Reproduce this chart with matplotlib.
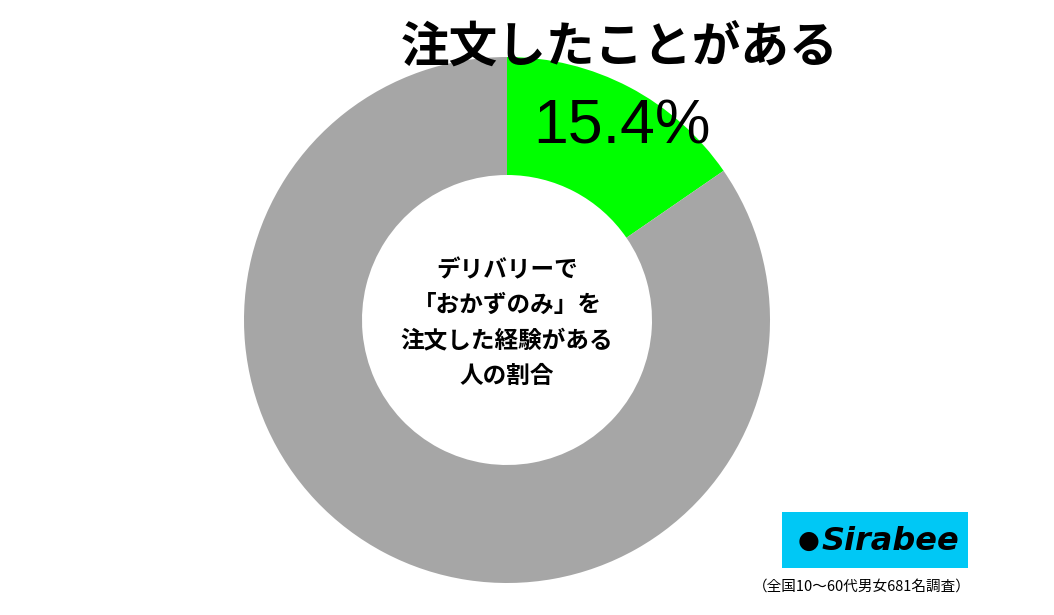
import matplotlib
matplotlib.use("Agg")
import matplotlib.pyplot as plt
from matplotlib.patches import FancyBboxPatch

labels = ["注文したことがある", "その他"]
values = [15.4, 84.6]
colors = ["#00ff00", "#a6a6a6"]
title = "注文したことがある"
value_label = "15.4%"
center_text = "デリバリーで\n「おかずのみ」を\n注文した経験がある\n人の割合"
note = "（全国10〜60代男女681名調査）"

plt.rcParams['font.family'] = ['Noto Sans CJK JP', 'DejaVu Sans']
fig = plt.figure(figsize=(10.54, 6.15), dpi=100)
ax = fig.add_axes([0, 0, 1, 1])

cx, cy = 507, 615 - 320
ax.pie(values, colors=colors, startangle=90, counterclock=False,
       center=(cx, cy), radius=263, wedgeprops=dict(width=118, linewidth=0),
       frame=True)
ax.set_xlim(0, 1054)
ax.set_ylim(0, 615)
ax.set_aspect('equal')
ax.axis('off')

ax.text(620, 615 - 48, title, fontsize=35, fontweight='bold', ha='center', va='center')
ax.text(622, 615 - 127, value_label, fontsize=45, ha='center', va='center',
        family=['Liberation Sans', 'DejaVu Sans'])
ax.text(cx, cy - 3, center_text, fontsize=17, fontweight='bold', ha='center', va='center',
        linespacing=1.6)

box = FancyBboxPatch((782, 615 - 568), 186, 56, boxstyle="square,pad=0",
                     facecolor="#00c8f5", edgecolor='none')
ax.add_patch(box)
ax.text(890, 615 - 541, "Sirabee", fontsize=23, fontweight='bold', style='italic',
        ha='center', va='center', family='DejaVu Sans')
ax.text(809, 615 - 541, "●", fontsize=18, ha='center', va='center', color='black',
        family='DejaVu Sans')
ax.text(862, 615 - 587, note, fontsize=10.5, ha='center', va='center')

fig.savefig("out.png", dpi=100)
